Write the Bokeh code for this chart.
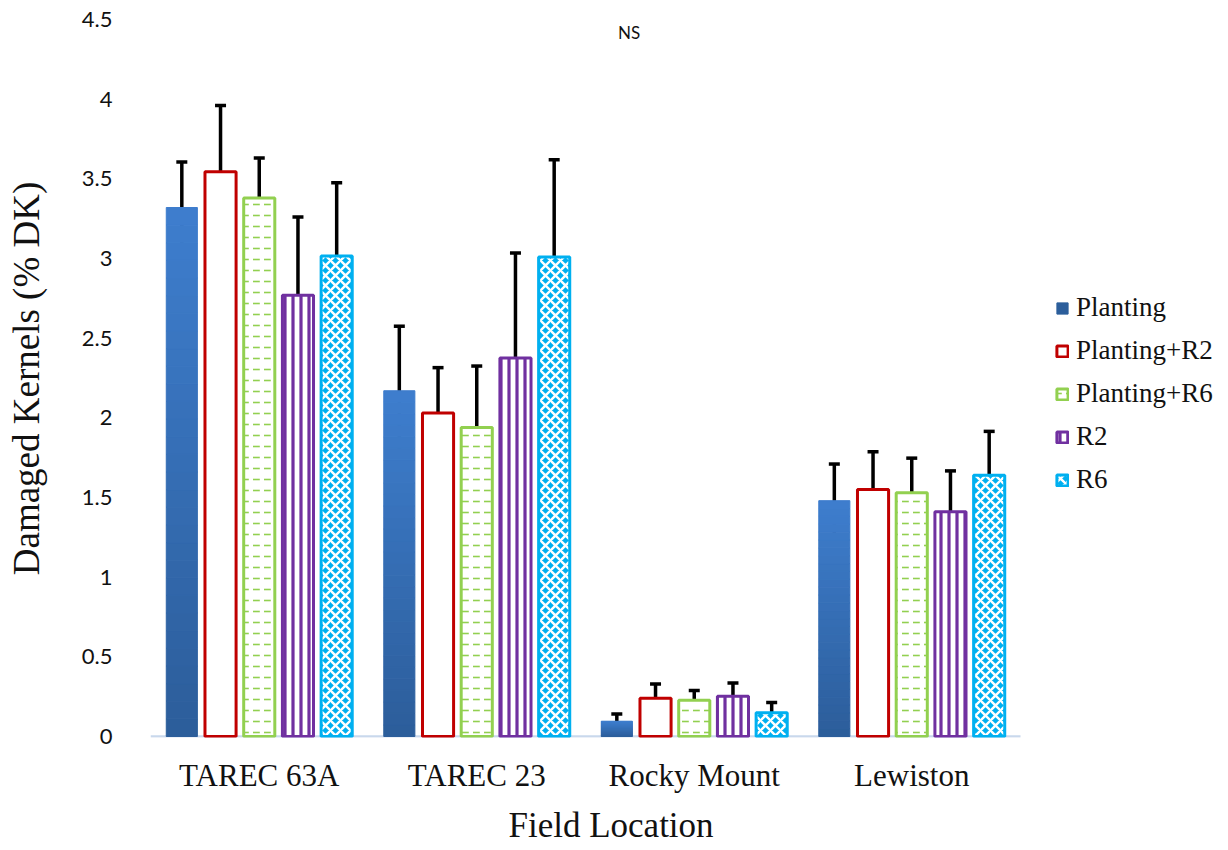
from bokeh.plotting import figure
from bokeh.models import (ColumnDataSource, Range1d, Whisker, TeeHead, Legend, Title,
                          LegendItem, Label, FixedTicker, NumeralTickFormatter)
from bokeh.transform import dodge
from bokeh.embed import file_html
from bokeh.resources import INLINE

# ---------------- data ----------------
categories = ["TAREC 63A", "TAREC 23", "Rocky Mount", "Lewiston"]
treatments = ["Planting", "Planting+R2", "Planting+R6", "R2", "R6"]
planting = [3.32, 2.17, 0.096, 1.48]
planting_r2 = [3.545, 2.03, 0.24, 1.55]
planting_r6 = [3.38, 1.94, 0.228, 1.53]
r2 = [2.77, 2.375, 0.253, 1.41]
r6 = [3.015, 3.01, 0.149, 1.64]
err_planting = [0.285, 0.405, 0.045, 0.23]
err_planting_r2 = [0.415, 0.285, 0.09, 0.237]
err_planting_r6 = [0.25, 0.385, 0.06, 0.217]
err_r2 = [0.49, 0.66, 0.083, 0.257]
err_r6 = [0.46, 0.61, 0.065, 0.275]
y_ticks = [0, 0.5, 1, 1.5, 2, 2.5, 3, 3.5, 4, 4.5]

values = [planting, planting_r2, planting_r6, r2, r6]
errors = [err_planting, err_planting_r2, err_planting_r6, err_r2, err_r6]

# category centres on a numeric axis (0.5, 1.5, ...)
cat_x = [i + 0.5 for i in range(len(categories))]

# ---------------- styling ----------------
SERIF = "Liberation Serif"
SANS = "Lato"
offsets = [-0.356, -0.178, 0.0, 0.178, 0.356]
BAR_W = 0.143
FRAME_W = 1070
UNIT_PX = 217.5          # pixels per category on the x axis
FRAME_H = 718

p = figure(x_range=Range1d(0, FRAME_W / UNIT_PX), y_range=Range1d(-4.5 / 717, 4.5),
           frame_width=FRAME_W, frame_height=FRAME_H, output_backend="svg", toolbar_location=None,
           min_border_left=150, min_border_right=0, min_border_top=19, min_border_bottom=0)
p.outline_line_color = None
p.xgrid.grid_line_color = None
p.ygrid.grid_line_color = None
p.background_fill_color = "white"

# baseline (category axis line) only under the categories
p.segment(x0=[0], y0=[0], x1=[len(categories)], y1=[0], line_color="#C9D8EC", line_width=2.5)

renderers = []

# Planting: gradient bar built from stacked slices
N = 30
dark = (0x2C, 0x5D, 0x9A)
light = (0x3E, 0x7E, 0xCE)
sx, sb, st, sc = [], [], [], []
for c, v in zip(cat_x, planting):
    for k in range(N):
        t = (k + 0.5) / N
        col = tuple(int(round(dark[i] + (light[i] - dark[i]) * t)) for i in range(3))
        sx.append(c); sb.append(v * k / N); st.append(v * (k + 1) / N)
        sc.append("#%02x%02x%02x" % col)
grad_src = ColumnDataSource(dict(x=sx, bottom=sb, top=st, color=sc))
r_plant = p.vbar(x=dodge("x", offsets[0]), bottom="bottom", top="top",
                 width=BAR_W, source=grad_src, fill_color="color", line_color="color", line_width=1)
renderers.append(r_plant)

styles = [
    None,
    dict(fill_color="white", line_color="#C00000", line_width=3),
    dict(fill_color="white", line_color="#92D050", line_width=3,
         hatch_pattern="horizontal_dash", hatch_color="#92D050", hatch_scale=11, hatch_weight=1.6),
    dict(fill_color="white", line_color="#7030A0", line_width=3,
         hatch_pattern="vertical_line", hatch_color="#7030A0", hatch_scale=8, hatch_weight=3.2),
    dict(fill_color="#00B0F0", line_color="#00B0F0", line_width=3,
         hatch_pattern="diagonal_cross", hatch_color="white", hatch_scale=10, hatch_weight=2.4),
]

for i in range(1, 5):
    src = ColumnDataSource(dict(x=cat_x, top=values[i]))
    r = p.vbar(x=dodge("x", offsets[i]), top="top", bottom=0,
               width=BAR_W, source=src, **styles[i])
    renderers.append(r)

# error bars
for i in range(5):
    src = ColumnDataSource(dict(x=cat_x,
                                upper=[v + e for v, e in zip(values[i], errors[i])],
                                lower=[v - e for v, e in zip(values[i], errors[i])]))
    w = Whisker(source=src, base=dodge("x", offsets[i]), upper="upper",
                lower="lower", dimension="height", line_color="black", line_width=3.5,
                upper_head=TeeHead(size=11, line_width=3.5, line_color="black"),
                lower_head=TeeHead(size=11, line_width=3.5, line_color="black"))
    p.add_layout(w)

# axes
p.yaxis.ticker = FixedTicker(ticks=y_ticks)
p.yaxis.formatter = NumeralTickFormatter(format="0.[0]")
p.yaxis.axis_line_color = None
p.yaxis.major_tick_line_color = None
p.yaxis.minor_tick_line_color = None
p.yaxis.major_label_text_font = SANS
p.yaxis.major_label_text_font_size = "22px"
p.yaxis.major_label_text_color = "#111111"
p.yaxis.major_label_standoff = 32
p.yaxis.axis_label = "Damaged Kernels (% DK)"
p.yaxis.axis_label_text_font = SERIF
p.yaxis.axis_label_text_font_size = "37px"
p.yaxis.axis_label_text_font_style = "normal"
p.yaxis.axis_label_text_color = "#111111"
p.yaxis.axis_label_standoff = 32

p.xaxis.ticker = FixedTicker(ticks=cat_x)
p.xaxis.major_label_overrides = {x: c for x, c in zip(cat_x, categories)}
p.xaxis.axis_line_color = None
p.xaxis.major_tick_line_color = None
p.xaxis.minor_tick_line_color = None
p.xaxis.major_label_text_font = SERIF
p.xaxis.major_label_text_font_size = "31px"
p.xaxis.major_label_text_color = "#111111"
p.xaxis.major_label_standoff = 14

# x axis title as a panel title so it can sit under the categories like the reference
x_title = Title(text="Field Location", align="left", offset=358, standoff=17,
                text_font=SERIF, text_font_size="35px", text_font_style="normal",
                text_color="#111111")
p.add_layout(x_title, "below")

p.add_layout(Label(x=2.2, y=4.42, text="NS", text_font=SANS, text_font_size="17px",
                   text_color="#111111", text_align="center", text_baseline="middle"))

legend = Legend(items=[LegendItem(label=t, renderers=[r]) for t, r in zip(treatments, renderers)],
                location=(905, 242), orientation="vertical")
legend.label_text_font = SERIF
legend.label_text_font_size = "27px"
legend.label_text_color = "#111111"
legend.glyph_width = 14
legend.glyph_height = 14
legend.label_standoff = 7
legend.label_height = 28
legend.spacing = 12
legend.padding = 0
legend.margin = 0
legend.border_line_color = None
legend.background_fill_alpha = 0
p.add_layout(legend, "center")

open("out.html", "w").write(file_html(p, INLINE))
